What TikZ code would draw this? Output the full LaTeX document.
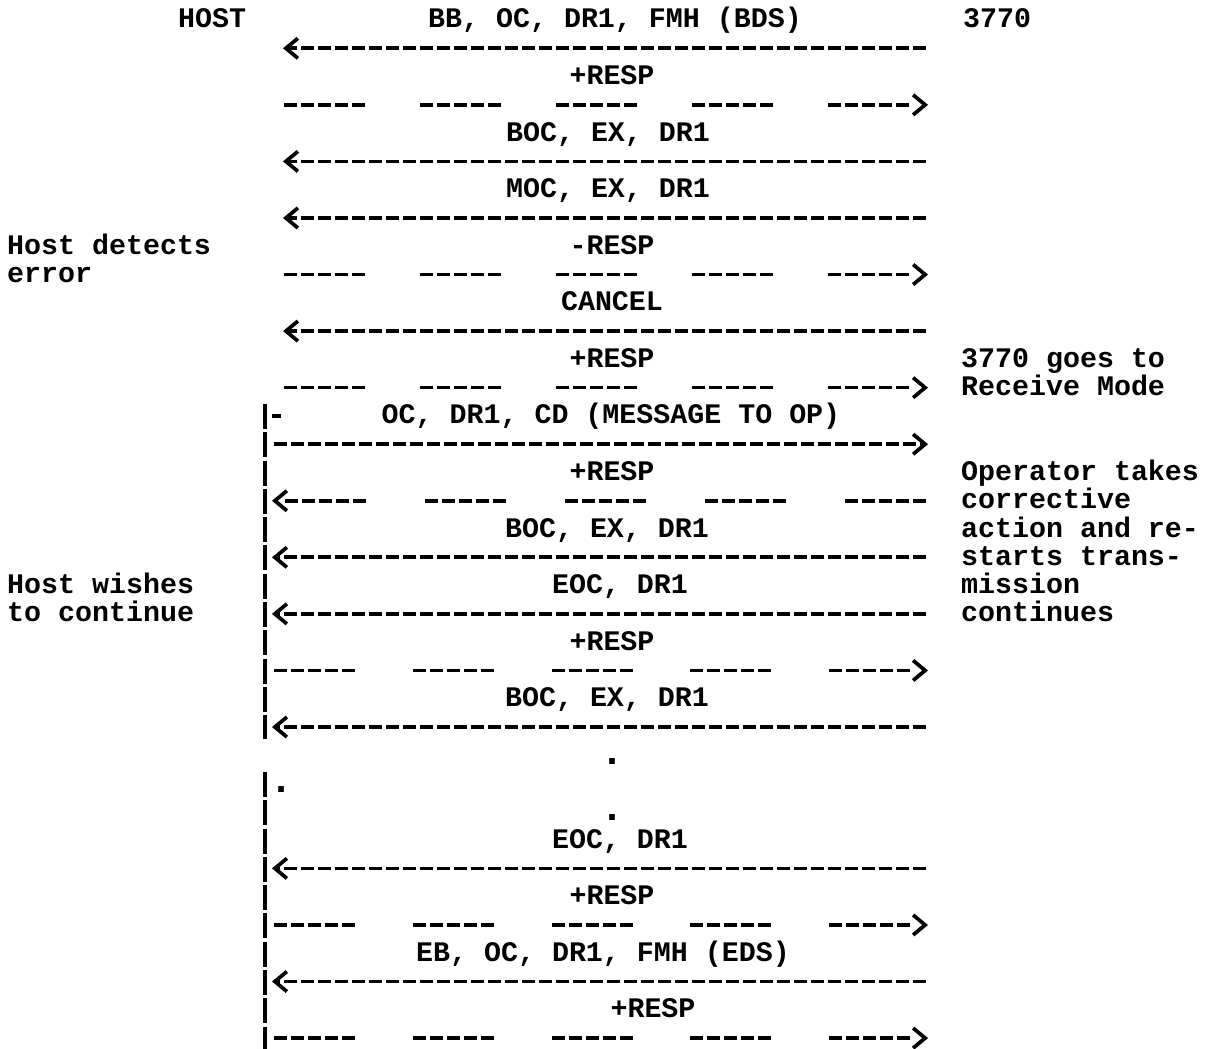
\documentclass[tikz,border=0pt]{standalone}
\usepackage{fontspec}
\usetikzlibrary{arrows.meta}
\newfontfamily\twfont{Liberation Mono}
\begin{document}
\begin{tikzpicture}[x=1pt,y=-1pt,
  txt/.style={font=\twfont\fontsize{28.3pt}{30pt}\selectfont\bfseries, inner sep=0pt, anchor=base, text=black},
  lbl/.style={txt, anchor=base west},
  dotmark/.style={font=\twfont\fontsize{40pt}{40pt}\selectfont\bfseries, inner sep=0pt, anchor=base, text=black},
  headtip/.style={-{Straight Barb[length=12pt,width=20pt]}},
  msg/.style={draw=black, line width=3.7pt, dash pattern=on 13pt off 4pt, headtip},
  rsp/.style={draw=black, line width=3.7pt, dash pattern=on 13pt off 4pt on 13pt off 4pt on 13pt off 4pt on 13pt off 4pt on 13pt off 55pt, headtip},
  rspbar/.style={draw=black, line width=3.7pt, dash pattern=on 13pt off 4pt on 13pt off 4pt on 13pt off 4pt on 13pt off 4pt on 13pt off 57.75pt, headtip},
  rspback/.style={draw=black, line width=3.7pt, dash pattern=on 13pt off 4pt on 13pt off 4pt on 13pt off 4pt on 13pt off 4pt on 13pt off 59pt, headtip},
  lifeline/.style={draw=black, line width=3.7pt, dash pattern=on 25pt off 3.28pt}
]
\fill[white] (0,0) rectangle (1207,1049);
\useasboundingbox (0,0) rectangle (1207,1049);

% end points of every row
\foreach \r in {0,...,36}{
  \pgfmathsetmacro\yy{20+28.28*\r}
  \coordinate (H\r) at (283,\yy);
  \coordinate (P\r) at (284,\yy);
  \coordinate (B\r) at (272,\yy);
  \coordinate (Q\r) at (274,\yy);
  \coordinate (S\r) at (926,\yy);
  \coordinate (T\r) at (928,\yy);
}
\coordinate (bar1top) at (265,404);
\coordinate (bar1bot) at (265,739);
\coordinate (bar2top) at (265,772);
\coordinate (bar2bot) at (265,1049);
\coordinate (dashA) at (272,415.9);
\coordinate (dashB) at (281,415.9);

% column headings and side notes
\node[lbl] (host) at (178,28) {HOST};
\node[lbl] (sys) at (963,28) {3770};
\node[lbl] (nA1) at (7,254.24) {Host detects};
\node[lbl] (nA2) at (7,282.52) {error};
\node[lbl] (nB1) at (961,367.36) {3770 goes to};
\node[lbl] (nB2) at (961,395.64) {Receive Mode};
\node[lbl] (nC1) at (961,480.48) {Operator takes};
\node[lbl] (nC2) at (961,508.76) {corrective};
\node[lbl] (nC3) at (961,537.04) {action and re-};
\node[lbl] (nC4) at (961,565.32) {starts trans-};
\node[lbl] (nC5) at (961,593.60) {mission};
\node[lbl] (nC6) at (961,621.88) {continues};
\node[lbl] (nD1) at (7,593.60) {Host wishes};
\node[lbl] (nD2) at (7,621.88) {to continue};

% message labels
\node[txt] (m0) at (615,28) {BB, OC, DR1, FMH (BDS)};
\node[txt] (m2) at (612,84.56) {+RESP};
\node[txt] (m4) at (608,141.12) {BOC, EX, DR1};
\node[txt] (m6) at (608,197.68) {MOC, EX, DR1};
\node[txt] (m8) at (612,254.24) {-RESP};
\node[txt] (m10) at (612,310.80) {CANCEL};
\node[txt] (m12) at (612,367.36) {+RESP};
\node[txt] (m14) at (611,423.92) {OC, DR1, CD (MESSAGE TO OP)};
\node[txt] (m16) at (612,480.48) {+RESP};
\node[txt] (m18) at (607,537.04) {BOC, EX, DR1};
\node[txt] (m20) at (620,593.60) {EOC, DR1};
\node[txt] (m22) at (612,650.16) {+RESP};
\node[txt] (m24) at (607,706.72) {BOC, EX, DR1};
\node[dotmark] (d26) at (612,764) {.};
\node[dotmark] (d27) at (281,792.5) {.};
\node[dotmark] (d28) at (612,820.5) {.};
\node[txt] (m29) at (620,848.12) {EOC, DR1};
\node[txt] (m31) at (612,904.68) {+RESP};
\node[txt] (m33) at (603,961.24) {EB, OC, DR1, FMH (EDS)};
\node[txt] (m35) at (653,1017.80) {+RESP};

% host-side vertical bar
\draw[lifeline] (bar1top) -- (bar1bot);
\draw[lifeline] (bar2top) -- (bar2bot);
\draw[draw=black, line width=3.7pt] (dashA) -- (dashB);

% messages from 3770 to host (long, leftwards)
\draw[msg] (S1) -- (H1);
\draw[msg] (S5) -- (H5);
\draw[msg] (S7) -- (H7);
\draw[msg] (S11) -- (H11);
\draw[msg] (S19) -- (B19);
\draw[msg] (S21) -- (B21);
\draw[msg] (S25) -- (B25);
\draw[msg] (S30) -- (B30);
\draw[msg] (S34) -- (B34);

% message from host to 3770 (long, rightwards)
\draw[msg] (Q15) -- (T15);

% responses to 3770 (broken, rightwards)
\draw[rsp] (P3) -- (T3);
\draw[rsp] (P9) -- (T9);
\draw[rsp] (P13) -- (T13);
\draw[rspbar] (Q23) -- (T23);
\draw[rspbar] (Q32) -- (T32);
\draw[rspbar] (Q36) -- (T36);

% response to host (broken, leftwards)
\draw[rspback] (S17) -- (B17);
\end{tikzpicture}
\end{document}
